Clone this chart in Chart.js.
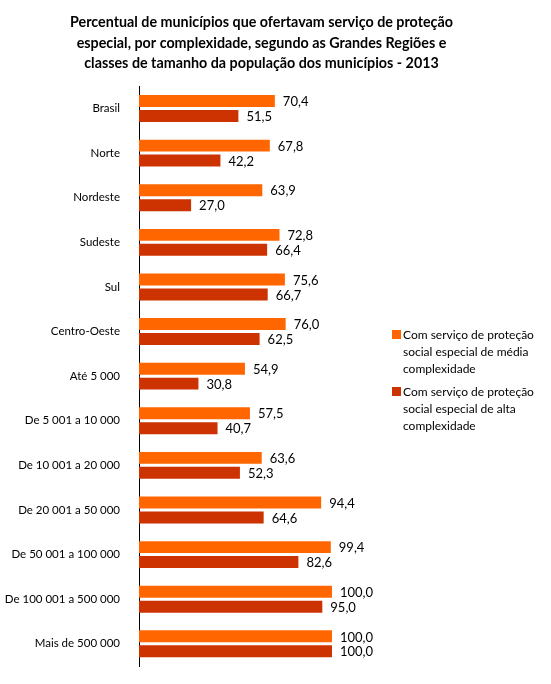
<!DOCTYPE html>
<html>
<head>
<meta charset="utf-8">
<script src="https://cdn.jsdelivr.net/npm/chart.js@4"></script>
<style>
  body { margin: 0; background: #fff; }
  #wrap { position: relative; width: 551px; height: 684px; }
  .leg { position: absolute; left: 392px; font: 12px Lato, "Open Sans", sans-serif; color: #000; line-height: 17px; }
  .leg span.sw { position: absolute; left: 0; top: 4px; width: 9px; height: 9px; }
  .leg div { padding-left: 11px; }
</style>
</head>
<body>
<div id="wrap">
  <canvas id="grafico" width="551" height="684"></canvas>
  <div class="leg" style="top:326px"><span class="sw" style="background:#FF6600"></span><div>Com serviço de proteção<br>social especial de média<br>complexidade</div></div>
  <div class="leg" style="top:383px"><span class="sw" style="background:#CC3300"></span><div>Com serviço de proteção<br>social especial de alta<br>complexidade</div></div>
</div>
<script>
// Dados
const categorias = ['Brasil', 'Norte', 'Nordeste', 'Sudeste', 'Sul', 'Centro-Oeste', 'Até 5 000',
    'De 5 001 a 10 000', 'De 10 001 a 20 000', 'De 20 001 a 50 000', 'De 50 001 a 100 000',
    'De 100 001 a 500 000', 'Mais de 500 000'];
const mediaComplexidade = [70.4, 67.8, 63.9, 72.8, 75.6, 76.0, 54.9, 57.5, 63.6, 94.4, 99.4, 100.0, 100.0];
const altaComplexidade = [51.5, 42.2, 27.0, 66.4, 66.7, 62.5, 30.8, 40.7, 52.3, 64.6, 82.6, 95.0, 100.0];
const nomesSeries = ['Com serviço de proteção social especial de média complexidade',
    'Com serviço de proteção social especial de alta complexidade'];

const fonte = 'Lato, "Open Sans", sans-serif';

// Rótulos de valor ao lado das barras
const rotulosPlugin = {
    id: 'rotulos',
    afterDatasetsDraw(chart) {
        const ctx = chart.ctx;
        ctx.save();
        ctx.font = '13px ' + fonte;
        ctx.fillStyle = '#000';
        ctx.textBaseline = 'middle';
        chart.data.datasets.forEach((ds, i) => {
            chart.getDatasetMeta(i).data.forEach((bar, j) => {
                const txt = ds.data[j].toFixed(1).replace('.', ',');
                ctx.fillText(txt, bar.x + 8, bar.y + 1);
            });
        });
        ctx.restore();
    }
};

new Chart(document.getElementById('grafico'), {
    type: 'bar',
    data: {
        labels: categorias,
        datasets: [
            { label: nomesSeries[0], data: mediaComplexidade, backgroundColor: '#FF6600' },
            { label: nomesSeries[1], data: altaComplexidade, backgroundColor: '#CC3300' }
        ]
    },
    options: {
        indexAxis: 'y',
        responsive: false,
        animation: false,
        categoryPercentage: 0.67,
        barPercentage: 0.8,
        layout: { padding: { left: 0, right: 28, top: 8, bottom: 16 } },
        plugins: {
            legend: { display: false },
            tooltip: { enabled: false },
            title: {
                display: true,
                text: ['Percentual de municípios que ofertavam serviço de proteção',
                    'especial, por complexidade, segundo as Grandes Regiões e',
                    'classes de tamanho da população dos municípios - 2013'],
                font: { family: fonte, size: 14.3, weight: 'bold', lineHeight: 1.45 },
                color: '#000',
                padding: { top: 4, bottom: 12 }
            }
        },
        scales: {
            x: { display: false, min: 0, max: 199 },
            y: {
                grid: { display: false },
                border: { display: true, color: '#000' },
                ticks: { color: '#000', font: { family: fonte, size: 11.5 }, padding: 11 },
                afterFit(scale) { scale.width = 139; }
            }
        }
    },
    plugins: [rotulosPlugin]
});
</script>
</body>
</html>
